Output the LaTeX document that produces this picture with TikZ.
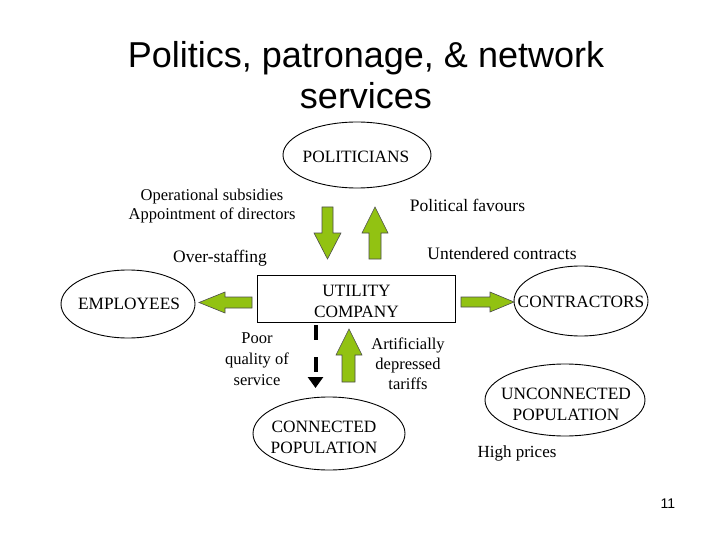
\documentclass[tikz,border=0pt]{standalone}
\usepackage{fontspec}
\setmainfont{Liberation Serif}
\newfontfamily\titlefont{Liberation Sans}
\usetikzlibrary{shapes.geometric,arrows.meta}
\definecolor{lime}{RGB}{146,194,18}
\tikzset{
  actor/.style={ellipse, draw=black, line width=0.9pt, inner sep=0pt},
  actortext/.style={align=center, inner sep=0pt, font=\fontsize{17.3}{21}\selectfont},
  label/.style={align=center, inner sep=0pt, font=\fontsize{16.5}{19.5}\selectfont},
  biglabel/.style={align=center, inner sep=0pt, font=\fontsize{17.5}{20}\selectfont},
  blockarrow/.style={fill=lime, draw=black!70, line width=0.6pt, line join=miter},
  dashedflow/.style={line width=4pt, dash pattern=on 15pt off 17pt, -{Triangle[width=15pt,length=11pt]}}
}
\begin{document}
\begin{tikzpicture}[x=1pt,y=-1pt]
\useasboundingbox (0,0) rectangle (720,540);
\fill[white] (0,0) rectangle (720,540);

\node[align=center, inner sep=0pt, font=\titlefont\fontsize{36}{41}\selectfont] (title) at (366,75)
  {Politics, patronage, \& network\\services};

% actors (ellipses) and their names
\node[actor, minimum width=148pt, minimum height=66pt] (pol) at (357,155) {};
\node[actortext] (polt) at (356,157) {POLITICIANS};
\node[actor, minimum width=134pt, minimum height=68pt] (emp) at (128,304) {};
\node[actortext] (empt) at (129,304) {EMPLOYEES};
\node[actor, minimum width=134pt, minimum height=70pt] (con) at (581,301) {};
\node[actortext] (cont) at (581,302) {CONTRACTORS};
\node[actor, minimum width=160pt, minimum height=72pt] (unc) at (565,400) {};
\node[actortext] (unct) at (566,404) {UNCONNECTED\\POPULATION};
\node[actor, minimum width=152pt, minimum height=73pt] (cpop) at (329,433.5) {};
\node[actortext] (cpopt) at (324,437.5) {CONNECTED\\POPULATION};
\node[draw=black, line width=0.9pt, minimum width=198pt, minimum height=47pt, inner sep=0pt] (util) at (356,298.5) {};
\node[actortext] (utilt) at (356.5,301.5) {UTILITY\\COMPANY};

% flow labels
\node[label] (ops) at (212,206) {Operational subsidies\\Appointment of directors};
\node[biglabel] (fav) at (467.5,205) {Political favours};
\node[biglabel] (unt) at (502,254) {Untendered contracts};
\node[biglabel] (ovs) at (220,258) {Over-staffing};
\node[label, font=\fontsize{16.5}{21}\selectfont] (poor) at (257,359.5) {Poor\\quality of\\service};
\node[label, font=\fontsize{16.5}{20}\selectfont] (tar) at (408,363.5) {Artificially\\depressed\\tariffs};
\node[label, font=\fontsize{17}{20}\selectfont] (hp) at (517,453) {High prices};

% green block arrows
\draw[blockarrow] (322,207) -- (333,207) -- (333,233) -- (341,233) -- (327.5,259) -- (314,233) -- (322,233) -- cycle;
\draw[blockarrow] (369,259) -- (381,259) -- (381,233) -- (388,233) -- (375,207) -- (362,233) -- (369,233) -- cycle;
\draw[blockarrow] (252,297) -- (252,308) -- (225,308) -- (225,313) -- (199,302.5) -- (225,292) -- (225,297) -- cycle;
\draw[blockarrow] (461,297) -- (461,307) -- (490,307) -- (490,312) -- (514,302) -- (490,292) -- (490,297) -- cycle;
\draw[blockarrow] (342,382) -- (355,382) -- (355,355) -- (362,355) -- (349,329) -- (336,355) -- (342,355) -- cycle;

% dashed flow from utility to connected population
\coordinate (d1) at (315.5,325);
\coordinate (d2) at (315.5,388);
\draw[dashedflow] (d1) -- (d2);

\node[inner sep=0pt, font=\titlefont\fontsize{14}{16}\selectfont] (pg) at (668,504) {11};
\end{tikzpicture}
\end{document}
